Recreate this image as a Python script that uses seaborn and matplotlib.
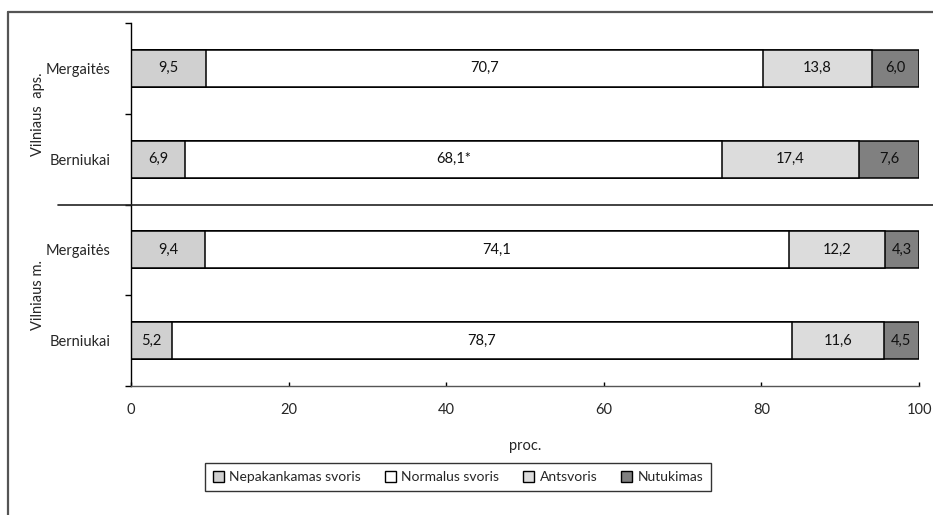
import numpy as np
import pandas as pd
import matplotlib
matplotlib.use("Agg")
import matplotlib.pyplot as plt
from matplotlib.patches import Patch
from matplotlib.lines import Line2D
from matplotlib.transforms import blended_transform_factory
import seaborn as sns

# --- data -------------------------------------------------------------
regions = ["Vilniaus  aps.", "Vilniaus  aps.", "Vilniaus m.", "Vilniaus m."]
sexes = ["Mergaitės", "Berniukai", "Mergaitės", "Berniukai"]
categories = ["Nepakankamas svoris", "Normalus svoris", "Antsvoris", "Nutukimas"]
nepakankamas = [9.5, 6.9, 9.4, 5.2]
normalus = [70.7, 68.1, 74.1, 78.7]
antsvoris = [13.8, 17.4, 12.2, 11.6]
nutukimas = [6.0, 7.6, 4.3, 4.5]
label_suffix = {("Normalus svoris", 1): "*"}

colors = ["#d0d0d0", "#ffffff", "#dcdcdc", "#808080"]

sns.set_theme(style="white")
plt.rcParams["font.family"] = ["Lato", "DejaVu Sans"]
plt.rcParams["font.size"] = 10.5

rows = [f"{r}|{s}|{i}" for i, (r, s) in enumerate(zip(regions, sexes))]
values = np.array([nepakankamas, normalus, antsvoris, nutukimas])  # (cat, row)
cum = values.cumsum(axis=0)

fig = plt.figure(figsize=(9.33, 5.15), dpi=100)
W, H = 933, 515
ax = fig.add_axes([131 / W, 1 - 386 / H, (919 - 131) / W, (386 - 23) / H])

# stacked bars: draw cumulative totals from the widest down
for k in range(len(categories) - 1, -1, -1):
    df = pd.DataFrame({"row": rows, "total": cum[k]})
    sns.barplot(data=df, x="total", y="row", order=rows, orient="h",
                color=colors[k], saturation=1, width=0.41,
                edgecolor="black", linewidth=1.1, ax=ax)

# segment value labels
for k, cat in enumerate(categories):
    for i in range(len(rows)):
        v = values[k, i]
        txt = f"{v:.1f}".replace(".", ",") + label_suffix.get((cat, i), "")
        ax.text(cum[k, i] - v / 2, i, txt, ha="center", va="center",
                fontsize=10.5, color="#111111")

ax.set_xlim(0, 100)
ax.set_ylim(len(rows) - 0.5, -0.5)
ax.set_xticks(np.arange(0, 101, 20))
ax.set_xticklabels([str(t) for t in range(0, 101, 20)])
ax.set_yticks(range(len(rows)))
ax.set_yticklabels(sexes)
ax.set_yticks(np.arange(-0.5, len(rows), 1.0), minor=True)
ax.tick_params(axis="y", which="major", length=0, pad=15, labelsize=10.5)
ax.tick_params(axis="y", which="minor", length=4, width=1, color="black",
               direction="out", left=True)
ax.tick_params(axis="x", which="major", length=3, width=1, color="black",
               direction="in", bottom=True, pad=12, labelsize=10.5)
ax.set_ylabel("")
ax.set_xlabel("proc.", fontsize=10.5, labelpad=16)

for side in ["top", "right"]:
    ax.spines[side].set_visible(False)
for side in ["left", "bottom"]:
    ax.spines[side].set_color("black")
    ax.spines[side].set_linewidth(1.0)
ax.spines["bottom"].set_color("#555555")

# separator between the two regions
trans = blended_transform_factory(fig.transFigure, ax.transData)
fig.add_artist(Line2D([58 / W, 1.0], [1.5, 1.5], transform=trans,
                      color="#222222", linewidth=1.2))

# region labels
for lab, center in [("Vilniaus  aps.", 0.5), ("Vilniaus m.", 2.5)]:
    fig.text(38 / W, center, lab, rotation=90, ha="center", va="center",
             fontsize=10.5, transform=trans)

# outer frame (top and left edges)
fig.add_artist(Line2D([8 / W, 1.0], [1 - 12 / H, 1 - 12 / H],
                      transform=fig.transFigure, color="#555555", linewidth=1.6))
fig.add_artist(Line2D([8 / W, 8 / W], [0, 1 - 12 / H],
                      transform=fig.transFigure, color="#555555", linewidth=1.6))

handles = [Patch(facecolor=c, edgecolor="black", linewidth=1.0) for c in colors]
leg = fig.legend(handles, categories, ncol=4, loc="center",
                 bbox_to_anchor=(458 / W, 1 - 477 / H), frameon=True,
                 fancybox=False, edgecolor="black", fontsize=10,
                 handlelength=0.8, handleheight=0.8, handletextpad=0.4,
                 columnspacing=1.7, borderpad=0.55)
leg.get_frame().set_linewidth(1.0)

fig.savefig("out.png", dpi=100)
